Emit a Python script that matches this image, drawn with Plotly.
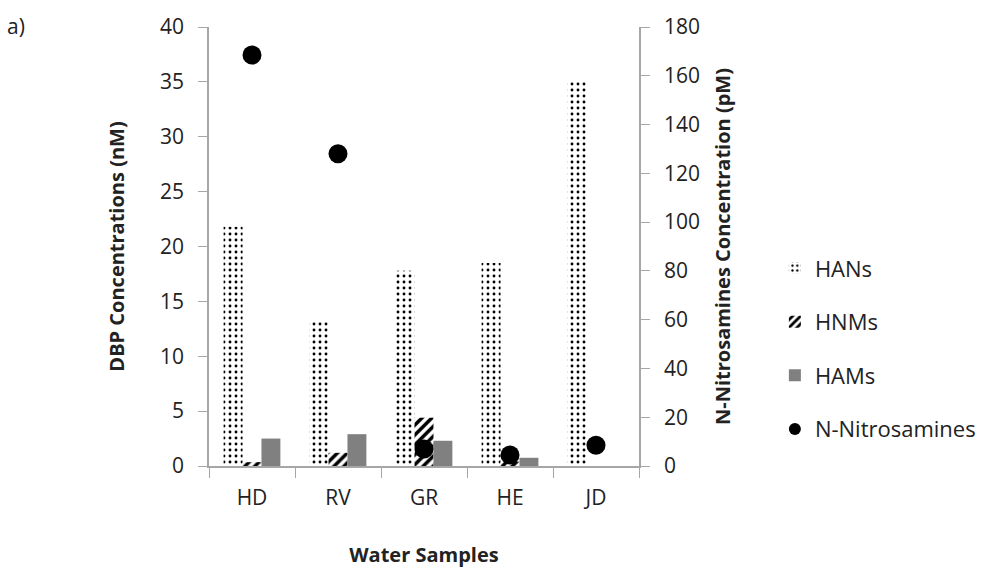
import plotly.graph_objects as go

samples = ["HD", "RV", "GR", "HE", "JD"]
hans = [21.8, 13.2, 17.8, 18.5, 35.0]
hnms = [0.35, 1.2, 4.4, 0.4, 0.0]
hams = [2.5, 2.9, 2.3, 0.75, 0.0]
nitros = [168.5, 128.0, 7.0, 4.5, 8.5]

FONT = "Open Sans"
fig = go.Figure()
fig.add_trace(go.Bar(x=samples, y=hans, name="HANs", legendgroup="a",
                     marker=dict(color="white", line=dict(width=0),
                                 pattern=dict(shape=".", fgcolor="black", bgcolor="white",
                                              size=6, solidity=0.18, fillmode="replace"))))
fig.add_trace(go.Bar(x=samples, y=hnms, name="HNMs", legendgroup="b",
                     marker=dict(color="white", line=dict(width=0),
                                 pattern=dict(shape="/", fgcolor="black", bgcolor="white",
                                              size=7, solidity=0.5, fillmode="replace"))))
fig.add_trace(go.Bar(x=samples, y=hams, name="HAMs", legendgroup="c",
                     marker=dict(color="#808080", line=dict(width=0))))
fig.add_trace(go.Scatter(x=samples, y=nitros, name="N-Nitrosamines", legendgroup="d",
                         mode="markers", yaxis="y2",
                         marker=dict(color="black", size=19, symbol="circle")))

axcol = "#a6a6a6"
fig.update_layout(
    width=993, height=575,
    margin=dict(l=209, r=347, t=19, b=109),
    plot_bgcolor="white", paper_bgcolor="white",
    font=dict(family=FONT, size=21, color="#222222"),
    barmode="group", bargap=0.34, bargroupgap=0,
    xaxis=dict(showline=True, linecolor=axcol, linewidth=1.5, ticks="outside",
               tickson="boundaries", ticklen=10, tickcolor=axcol, ticklabelstandoff=12,
               title=dict(text="<b>Water Samples</b>", standoff=38, font=dict(size=20)),
               showgrid=False),
    yaxis=dict(range=[0, 40], dtick=5, showline=True, linecolor=axcol, linewidth=1.5,
               ticks="outside", ticklen=9, tickcolor=axcol, showgrid=False, zeroline=False,
               ticklabelstandoff=10,
               title=dict(text="<b>DBP Concentrations (nM)</b>", standoff=30, font=dict(size=20))),
    yaxis2=dict(range=[0, 180], dtick=20, overlaying="y", side="right", showline=True,
                linecolor=axcol, linewidth=1.5, ticks="outside", ticklen=9, tickcolor=axcol,
                showgrid=False, zeroline=False, ticklabelstandoff=10,
                title=dict(text="<b>N-Nitrosamines Concentration (pM)</b>", standoff=17,
                           font=dict(size=20))),
    legend=dict(x=1.316, y=0.267, xanchor="left", yanchor="middle", tracegroupgap=22,
                font=dict(size=22), itemsizing="constant", bgcolor="rgba(0,0,0,0)"),
    annotations=[dict(text="a)", x=0, y=1, xref="paper", yref="paper", showarrow=False,
                      xanchor="left", yanchor="top", xshift=-204, yshift=17,
                      font=dict(size=21))],
)
fig.write_html("out.html")
